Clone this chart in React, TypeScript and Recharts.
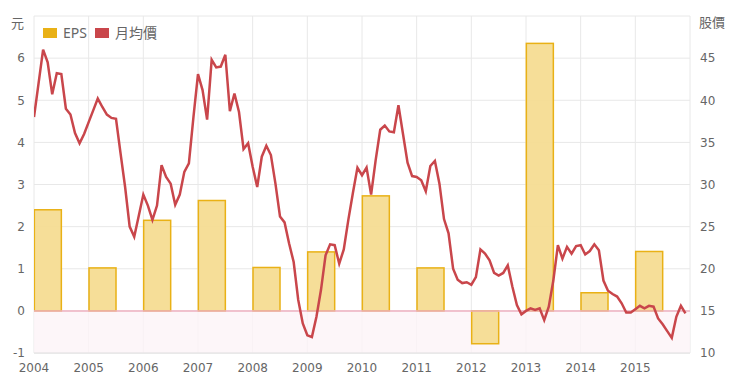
import React from "react";
import {
  Bar,
  CartesianGrid,
  ComposedChart,
  Line,
  ReferenceArea,
  ReferenceLine,
  XAxis,
  YAxis,
} from "recharts";

const years = [2004, 2005, 2006, 2007, 2008, 2009, 2010, 2011, 2012, 2013, 2014, 2015];
const eps = [2.4, 1.02, 2.15, 2.62, 1.03, 1.4, 2.73, 1.02, -0.78, 6.35, 0.43, 1.41];

// monthly average price, Jan..Dec
const price2004 = [38.0, 42.0, 46.0, 44.5, 40.7, 43.2, 43.1, 39.0, 38.3, 36.1, 34.9, 36.0];
const price2005 = [37.4, 38.8, 40.2, 39.2, 38.3, 37.9, 37.8, 33.7, 29.7, 25.0, 23.8, 26.3];
const price2006 = [28.8, 27.5, 25.8, 27.5, 32.3, 30.9, 30.1, 27.6, 28.8, 31.5, 32.5, 38.0];
const price2007 = [43.1, 41.2, 37.7, 44.8, 43.9, 44.0, 45.4, 38.7, 40.8, 38.6, 34.2, 34.9];
const price2008 = [32.1, 29.7, 33.3, 34.6, 33.5, 30.1, 26.2, 25.5, 23.0, 20.8, 16.3, 13.5];
const price2009 = [12.1, 11.9, 14.3, 17.5, 21.6, 22.9, 22.8, 20.6, 22.3, 25.8, 29.0, 32.0];
const price2010 = [31.1, 32.0, 28.8, 32.9, 36.5, 37.0, 36.3, 36.2, 39.4, 36.0, 32.6, 31.0];
const price2011 = [30.9, 30.5, 29.2, 32.2, 32.8, 30.1, 25.9, 24.2, 20.0, 18.7, 18.3, 18.4];
const price2012 = [18.1, 19.0, 22.3, 21.8, 21.0, 19.5, 19.2, 19.5, 20.4, 17.9, 15.7, 14.6];
const price2013 = [15.0, 15.3, 15.1, 15.3, 13.9, 15.5, 18.6, 22.8, 21.2, 22.6, 21.8, 22.7];
const price2014 = [22.8, 21.7, 22.1, 22.9, 22.2, 18.6, 17.4, 17.0, 16.7, 15.9, 14.8, 14.8];
const price2015 = [15.2, 15.6, 15.3, 15.6, 15.5, 14.1, 13.4, 12.6, 11.8, 14.3, 15.6, 14.7];

const prices = [
  price2004, price2005, price2006, price2007, price2008, price2009,
  price2010, price2011, price2012, price2013, price2014, price2015,
];

const epsTicks = [-1, 0, 1, 2, 3, 4, 5, 6, 7];
const priceTicks = [10, 15, 20, 25, 30, 35, 40, 45, 50];

// EPS bar sits a quarter into its year (April row)
const data = years.flatMap((year, i) =>
  prices[i].map((price, m) => ({
    t: year + m / 12,
    price,
    eps: m === 3 ? eps[i] : null,
  }))
);

const tickStyle = { fontFamily: "DejaVu Sans, Noto Sans CJK TC", fontSize: 12, fill: "#666" };
const BAR_GOLD = "#e9b116";
const LINE_RED = "#c9464b";
const BAR_WIDTH = 27; // half a year on the time axis

// the monthly band is narrow, so widen the rect around the bar's centre
function EpsBar(props: any) {
  const { x, y, width, height } = props;
  if (height == null || width == null) return null;
  const cx = x + width / 2;
  const top = height < 0 ? y + height : y;
  return (
    <rect
      x={cx - BAR_WIDTH / 2}
      y={top}
      width={BAR_WIDTH}
      height={Math.abs(height)}
      fill="#f5dc92"
      fillOpacity={0.95}
      stroke={BAR_GOLD}
      strokeWidth={1.5}
    />
  );
}

function LegendBox() {
  const item = (color: string, label: string) => (
    <span style={{ display: "inline-flex", alignItems: "center", marginRight: 8 }}>
      <span style={{ width: 14, height: 10, background: color, display: "inline-block", marginRight: 6 }} />
      <span>{label}</span>
    </span>
  );
  return (
    <div
      style={{
        position: "absolute",
        left: 43,
        top: 24,
        fontFamily: "Noto Sans, Noto Sans CJK TC",
        fontSize: 14,
        color: "#666",
        lineHeight: "18px",
        whiteSpace: "nowrap",
      }}
    >
      {item(BAR_GOLD, "EPS")}
      {item(LINE_RED, "月均價")}
    </div>
  );
}

export default function App() {
  return (
    <div style={{ position: "absolute", left: 0, top: 0, width: 740, height: 384, background: "#fff" }}>
      <ComposedChart
        width={740}
        height={384}
        data={data}
        margin={{ top: 16, right: 0, bottom: 0, left: 0 }}
      >
        <CartesianGrid yAxisId="left" stroke="#e8e8e8" />
        <ReferenceArea yAxisId="left" y1={-1} y2={0} fill="#fdf4f7" fillOpacity={0.8} stroke="none" />
        <XAxis
          dataKey="t"
          type="number"
          domain={[2004, 2016]}
          ticks={years}
          allowDataOverflow
          height={31}
          tickSize={0}
          tickMargin={10}
          axisLine={{ stroke: "#e0e0e0" }}
          tick={tickStyle}
        />
        <YAxis
          yAxisId="left"
          width={34}
          domain={[-1, 7]}
          ticks={epsTicks}
          tickFormatter={(v: number) => (v === 7 ? "" : String(v))}
          axisLine={false}
          tickSize={0}
          tickMargin={9}
          tick={tickStyle}
        />
        <YAxis
          yAxisId="right"
          orientation="right"
          width={50}
          domain={[10, 50]}
          ticks={priceTicks}
          tickFormatter={(v: number) => (v === 50 ? "" : String(v))}
          axisLine={false}
          tickSize={0}
          tickMargin={10}
          tick={{ ...tickStyle, textAnchor: "start" }}
        />
        <Bar
          yAxisId="left"
          dataKey="eps"
          shape={EpsBar}
          isAnimationActive={false}
        />
        <ReferenceLine yAxisId="left" y={0} stroke="#eeb0c0" strokeWidth={1.5} />
        <Line
          yAxisId="right"
          dataKey="price"
          type="linear"
          stroke={LINE_RED}
          strokeWidth={2.5}
          dot={false}
          isAnimationActive={false}
        />
      </ComposedChart>
      <LegendBox />
      <div style={{ position: "absolute", left: 11, top: 13, fontFamily: "Noto Sans CJK TC", fontSize: 13, color: "#666" }}>
        元
      </div>
      <div style={{ position: "absolute", left: 699, top: 12, fontFamily: "Noto Sans CJK TC", fontSize: 13, color: "#666" }}>
        股價
      </div>
    </div>
  );
}
